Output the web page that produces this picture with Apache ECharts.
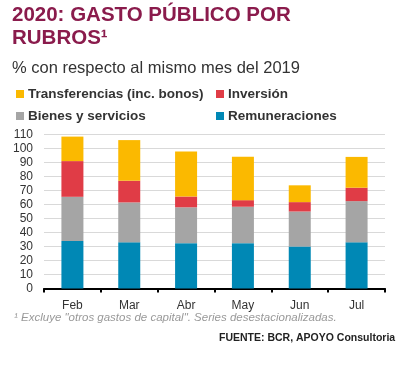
<!DOCTYPE html>
<html>
<head>
<meta charset="utf-8">
<script src="https://cdn.jsdelivr.net/npm/echarts@6/dist/echarts.min.js"></script>
<style>
html,body{margin:0;padding:0;background:#fff;}
#c{width:413px;height:369px;}
</style>
</head>
<body>
<div id="c"></div>
<script>
const categories = ['Feb', 'Mar', 'Abr', 'May', 'Jun', 'Jul'];
const remuneraciones = [34, 33, 32.4, 32.4, 30, 33];
const bienes = [31.5, 28.5, 25.6, 26, 25, 29.4];
const inversion = [25.5, 15.5, 7.7, 4.7, 6.7, 9.6];
const transferencias = [17.5, 29, 32.2, 31, 12, 22];
const yTicks = {min: 0, max: 110, interval: 10};

const FONT = '"Liberation Sans", Arial, sans-serif';
const colors = {
  trans: '#FBB900', inv: '#E03C46', bienes: '#A5A5A5', rem: '#0088B5'
};

const chart = echarts.init(document.getElementById('c'), null, {renderer: 'canvas'});

function leg(name, left, top) {
  return {
    data: [name], left: left, top: top, orient: 'horizontal',
    icon: 'rect', itemWidth: 8, itemHeight: 8, itemGap: 0,
    padding: 0, selectedMode: false,
    textStyle: {fontFamily: FONT, fontSize: 13.5, fontWeight: 'bold', color: '#333', padding: [0,0,0,-1]}
  };
}

const option = {
  animation: false,
  backgroundColor: '#fff',
  title: [
    {text: '2020: GASTO PÚBLICO POR\nRUBROS¹', left: 12, top: 4, padding: 0,
     textStyle: {fontFamily: FONT, fontSize: 20.5, fontWeight: 'bold', color: '#8A1B4C', lineHeight: 23}},
    {text: '% con respecto al mismo mes del 2019', left: 12, top: 60, padding: 0,
     textStyle: {fontFamily: FONT, fontSize: 16.5, fontWeight: 'normal', color: '#333'}},
    {text: '¹ Excluye "otros gastos de capital". Series desestacionalizadas.', left: 14, top: 312, padding: 0,
     textStyle: {fontFamily: FONT, fontSize: 11.5, fontStyle: 'italic', fontWeight: 'normal', color: '#999'}},
    {text: 'FUENTE: BCR, APOYO Consultoria', left: 219, top: 333, padding: 0,
     textStyle: {fontFamily: FONT, fontSize: 10.5, fontWeight: 'bold', color: '#222'}}
  ],
  legend: [
    leg('Transferencias (inc. bonos)', 16, 87),
    leg('Inversión', 216, 87),
    leg('Bienes y servicios', 16, 109),
    leg('Remuneraciones', 216, 109)
  ],
  grid: {left: 44, right: 28, top: 134.5, bottom: 80.5, containLabel: false},
  xAxis: {
    type: 'category', data: categories, boundaryGap: true,
    axisLine: {show: true, lineStyle: {color: '#000', width: 2}},
    axisTick: {show: true, length: 4, lineStyle: {color: '#000', width: 2}},
    axisLabel: {fontFamily: FONT, fontSize: 12, color: '#333', margin: 11}
  },
  yAxis: {
    type: 'value', min: yTicks.min, max: yTicks.max, interval: yTicks.interval,
    axisLine: {show: false}, axisTick: {show: false},
    axisLabel: {fontFamily: FONT, fontSize: 12, color: '#333', margin: 11},
    splitLine: {show: true, lineStyle: {color: '#D9D9D9', width: 1}}
  },
  series: [
    {name: 'Remuneraciones', type: 'bar', stack: 't', data: remuneraciones, barWidth: 22, itemStyle: {color: colors.rem}},
    {name: 'Bienes y servicios', type: 'bar', stack: 't', data: bienes, barWidth: 22, itemStyle: {color: colors.bienes}},
    {name: 'Inversión', type: 'bar', stack: 't', data: inversion, barWidth: 22, itemStyle: {color: colors.inv}},
    {name: 'Transferencias (inc. bonos)', type: 'bar', stack: 't', data: transferencias, barWidth: 22, itemStyle: {color: colors.trans}}
  ]
};
chart.setOption(option);
</script>
</body>
</html>
